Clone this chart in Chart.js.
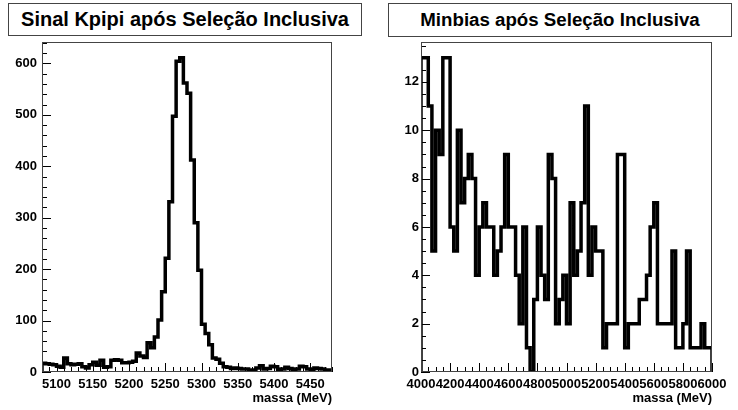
<!DOCTYPE html>
<html>
<head>
<meta charset="utf-8">
<script src="https://cdn.jsdelivr.net/npm/chart.js@4.4.0/dist/chart.umd.min.js"></script>
<style>
  body { margin: 0; background: #fff; }
  #wrap { position: relative; width: 738px; height: 410px; overflow: hidden; background: #fff; }
  .pane { position: absolute; top: 0; width: 369px; height: 410px; }
  .title {
    position: absolute; box-sizing: border-box; border: 1px solid #444; background: #fff;
    font-family: "Liberation Sans", Arial, Helvetica, sans-serif; font-weight: bold; color: #000;
    display: flex; align-items: center; justify-content: center; white-space: nowrap;
  }
</style>
</head>
<body>
<div id="wrap">
  <div class="pane" style="left:0"><canvas id="kpipi" width="369" height="410"></canvas></div>
  <div class="pane" style="left:369px"><canvas id="minbias" width="369" height="410"></canvas></div>
  <div class="title" style="left:8px; top:3px; width:354px; height:33px; font-size:20px;">Sinal Kpipi após Seleção Inclusiva</div>
  <div class="title" style="left:388px; top:3px; width:344px; height:34px; font-size:18.7px;">Minbias após Seleção Inclusiva</div>
</div>
<script>
// histogram ranges (MeV) and bin contents
const kpipiRange = [5080, 5480];
const kpipiCounts = [
  10, 17, 16, 15, 14, 11, 9, 27, 16, 14,
  15, 16, 10, 8, 14, 19, 13, 23, 9, 10,
  23, 24, 23, 18, 18, 19, 21, 37, 31, 28,
  57, 47, 68, 101, 156, 221, 331, 497, 604, 611,
  562, 542, 412, 290, 198, 93, 75, 53, 27, 25,
  17, 10, 9, 7, 8, 7, 6, 6, 3, 4,
  8, 12, 6, 7, 11, 10, 5, 6, 9, 7,
  5, 6, 11, 10, 6, 5, 8, 7, 6, 4
];
const kpipiXTicks = [5100, 5150, 5200, 5250, 5300, 5350, 5400, 5450];
const kpipiYTicks = [0, 100, 200, 300, 400, 500, 600];

const minbiasRange = [4000, 6000];
const minbiasCounts = [
  9, 13, 13, 11, 5, 10, 9, 13, 13, 6,
  5, 10, 7, 8, 9, 8, 4, 6, 7, 6,
  6, 4, 5, 6, 9, 6, 6, 4, 2, 6,
  1, 0, 3, 6, 4, 3, 9, 8, 2, 3,
  4, 2, 7, 4, 5, 7, 11, 4, 6, 5,
  5, 1, 2, 2, 2, 9, 9, 1, 2, 2,
  2, 3, 3, 4, 6, 7, 2, 2, 2, 2,
  5, 1, 1, 2, 5, 1, 1, 1, 2, 1
];
const minbiasXTicks = [4000, 4200, 4400, 4600, 4800, 5000, 5200, 5400, 5600, 5800, 6000];
const minbiasYTicks = [0, 2, 4, 6, 8, 10, 12];

Chart.defaults.font.family = '"Liberation Sans", Arial, Helvetica, sans-serif';
Chart.defaults.color = '#000';

// outline of a histogram: start and end on zero like ROOT does
function histPoints(range, counts) {
  const w = (range[1] - range[0]) / counts.length;
  const pts = [{ x: range[0], y: 0 }];
  counts.forEach((c, i) => pts.push({ x: range[0] + i * w, y: c }));
  pts.push({ x: range[1], y: counts[counts.length - 1] });
  pts.push({ x: range[1], y: 0 });
  return pts;
}

// frame and inward ticks in the ROOT way
const rootFrame = {
  id: 'rootFrame',
  afterDatasetsDraw(chart, args, opts) {
    const ctx = chart.ctx;
    const a = chart.chartArea;
    const xs = chart.scales.x, ys = chart.scales.y;
    ctx.save();
    ctx.strokeStyle = '#000';
    ctx.lineWidth = 1;
    ctx.beginPath();
    for (let k = 0; ys.min + k * opts.yMinor <= ys.max + 1e-9; k++) {
      const v = ys.min + k * opts.yMinor;
      const major = Math.abs(v / opts.yMajor - Math.round(v / opts.yMajor)) < 1e-6;
      const py = Math.round(ys.getPixelForValue(v)) + 0.5;
      ctx.moveTo(a.left, py);
      ctx.lineTo(a.left + (major ? 9 : 5), py);
    }
    const x0 = Math.ceil(xs.min / opts.xMinor) * opts.xMinor;
    for (let k = 0; x0 + k * opts.xMinor <= xs.max + 1e-9; k++) {
      const v = x0 + k * opts.xMinor;
      const major = Math.abs(v / opts.xMajor - Math.round(v / opts.xMajor)) < 1e-6;
      const px = Math.round(xs.getPixelForValue(v)) + 0.5;
      ctx.moveTo(px, a.bottom);
      ctx.lineTo(px, a.bottom - (major ? 9 : 5));
    }
    ctx.stroke();
    ctx.strokeStyle = '#444';
    ctx.strokeRect(a.left + 0.5, a.top + 0.5, a.right - a.left - 1, a.bottom - a.top - 1);
    ctx.restore();
  }
};

function makeHist(id, range, counts, ymax, xTicks, yTicks, frameOpts, geo) {
  const tickFont = { size: 13, weight: 'bold' };
  return new Chart(document.getElementById(id), {
    type: 'line',
    data: {
      datasets: [{
        data: histPoints(range, counts),
        stepped: 'after',
        borderColor: '#000',
        borderWidth: 3.5,
        borderJoinStyle: 'miter',
        borderCapStyle: 'butt',
        pointRadius: 0,
        fill: false
      }]
    },
    options: {
      responsive: false,
      animation: false,
      events: [],
      layout: { padding: { top: 42, right: geo.right, left: 0, bottom: 0 } },
      plugins: {
        legend: { display: false },
        tooltip: { enabled: false },
        rootFrame: frameOpts
      },
      scales: {
        x: {
          type: 'linear',
          min: range[0],
          max: range[1],
          grid: { display: false, drawTicks: false },
          border: { display: false },
          afterBuildTicks: s => { s.ticks = xTicks.map(v => ({ value: v })); },
          afterFit: s => { s.height = 38; },
          ticks: { autoSkip: false, maxRotation: 0, minRotation: 0, padding: 5, font: tickFont,
                   callback: v => String(v) },
          title: { display: true, text: 'massa (MeV)', align: 'end', font: { size: 13, weight: 'bold' },
                   padding: { top: 0, bottom: 4 } }
        },
        y: {
          min: 0,
          max: ymax,
          grid: { display: false, drawTicks: false },
          border: { display: false },
          afterBuildTicks: s => { s.ticks = yTicks.map(v => ({ value: v })); },
          afterFit: s => { s.width = geo.left; },
          ticks: { padding: geo.ypad, font: tickFont, callback: v => String(v) }
        }
      }
    },
    plugins: [rootFrame]
  });
}

makeHist('kpipi', kpipiRange, kpipiCounts, 611 * 1.05, kpipiXTicks, kpipiYTicks,
  { xMajor: 50, xMinor: 10, yMajor: 100, yMinor: 20 }, { left: 42, right: 37, ypad: 5 });
makeHist('minbias', minbiasRange, minbiasCounts, 13 * 1.05, minbiasXTicks, minbiasYTicks,
  { xMajor: 200, xMinor: 50, yMajor: 2, yMinor: 0.5 }, { left: 52, right: 26, ypad: 2 });
</script>
</body>
</html>
